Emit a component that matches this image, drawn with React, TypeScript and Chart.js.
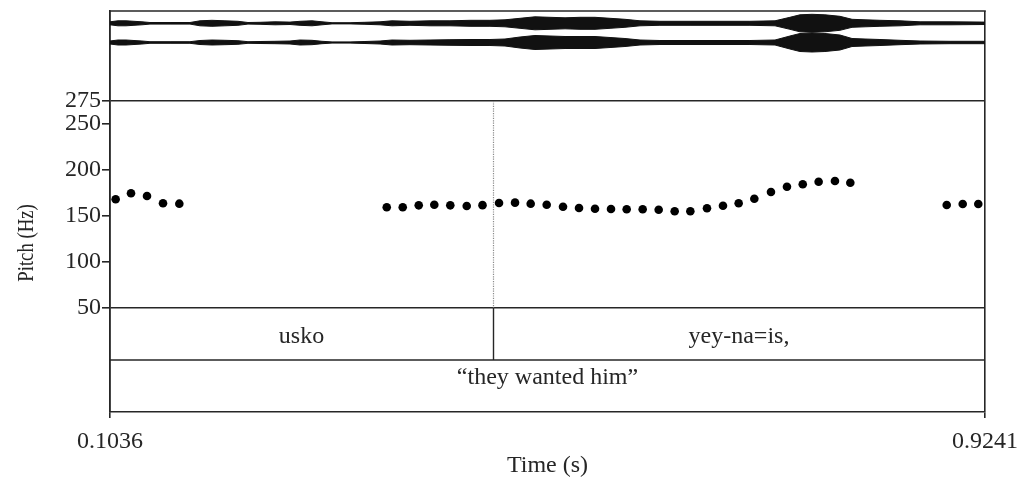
import React, { useEffect, useRef } from 'react';
import { Chart, registerables } from 'chart.js';

Chart.register(...registerables);

// ---------- data ----------
const timeStart = 0.1036;
const timeEnd = 0.9241;
const timeTicks = [0.1036, 0.9241];

const pitchTimes = [
  0.1089, 0.1233, 0.1383, 0.1533, 0.1686,
  0.3631, 0.3781, 0.3931, 0.4077, 0.4227, 0.4381, 0.4529, 0.4684, 0.4834, 0.4981,
  0.5131, 0.5284, 0.5434, 0.5584, 0.5734, 0.5881, 0.6031, 0.6181, 0.6331, 0.6478,
  0.6634, 0.6784, 0.6931, 0.7078, 0.7234, 0.7384, 0.7532, 0.7681, 0.7834, 0.7978,
  0.8882, 0.9032, 0.9178,
];
const pitchHz = [
  168.2, 174.7, 171.7, 163.8, 163.4,
  159.5, 159.5, 161.6, 162.3, 161.6, 160.9, 161.8, 164.2, 164.5, 163.4,
  162.3, 160.1, 158.7, 157.9, 157.6, 157.3, 157.3, 156.8, 155.1, 155.1,
  158.4, 161.2, 163.8, 168.8, 176.1, 181.8, 184.5, 187.3, 188.0, 186.2,
  162.0, 163.0, 163.0,
];
const pitchTicks = [50, 100, 150, 200, 250, 275];

// waveform amplitude envelope (relative), two channels
const waveTimes = [
  0.1036, 0.1111, 0.1186, 0.1261, 0.1336, 0.1411, 0.1599, 0.1786, 0.1880, 0.1992,
  0.2114, 0.2236, 0.2330, 0.2443, 0.2583, 0.2724, 0.2818, 0.2930, 0.3024, 0.3118,
  0.3287, 0.3427, 0.3568, 0.3680, 0.3849, 0.4037, 0.4224, 0.4412, 0.4599, 0.4740,
  0.4881, 0.5021, 0.5162, 0.5303, 0.5443, 0.5584, 0.5725, 0.5865, 0.6006, 0.6193,
  0.6475, 0.6756, 0.7037, 0.7272, 0.7412, 0.7506, 0.7619, 0.7740, 0.7881, 0.7994,
  0.8116, 0.8256, 0.8444, 0.8632, 0.8913, 0.9241,
];
const waveAmpCh1 = [
  0.15, 0.25, 0.25, 0.2, 0.15, 0.08, 0.08, 0.08, 0.25, 0.3,
  0.25, 0.2, 0.08, 0.1, 0.15, 0.12, 0.2, 0.25, 0.15, 0.06,
  0.06, 0.1, 0.15, 0.25, 0.2, 0.25, 0.25, 0.3, 0.3, 0.35,
  0.5, 0.65, 0.6, 0.55, 0.6, 0.6, 0.5, 0.4, 0.25, 0.2,
  0.2, 0.2, 0.2, 0.25, 0.6, 0.85, 0.9, 0.85, 0.7, 0.4,
  0.35, 0.3, 0.25, 0.15, 0.15, 0.12,
];
const waveAmpCh2 = [
  0.15, 0.25, 0.25, 0.2, 0.15, 0.08, 0.08, 0.08, 0.2, 0.25,
  0.22, 0.18, 0.08, 0.1, 0.12, 0.15, 0.25, 0.22, 0.12, 0.06,
  0.06, 0.1, 0.15, 0.25, 0.22, 0.25, 0.28, 0.3, 0.3, 0.35,
  0.55, 0.7, 0.65, 0.6, 0.6, 0.6, 0.5, 0.4, 0.25, 0.2,
  0.2, 0.2, 0.2, 0.25, 0.65, 0.9, 0.95, 0.9, 0.75, 0.4,
  0.35, 0.3, 0.22, 0.15, 0.12, 0.12,
];

const wordLabels = ['usko', 'yey-na=is,'];
const wordBounds = [0.1036, 0.4627, 0.9241];
const glossLabels = ['\u201Cthey wanted him\u201D'];
const glossBounds = [0.1036, 0.9241];

// ---------- layout / style constants ----------
const W = 1019;
const H = 479;
const AREA_LEFT = 110;
const AREA_RIGHT = 985;
const AREA_TOP = 11;
const AREA_BOTTOM = 412;
const PITCH_TOP_PX = 101;
const PITCH_BOT_PX = 308;
const PITCH_TOP_VAL = 275;
const PITCH_BOT_VAL = 50;
const PX_PER_HZ = (PITCH_BOT_PX - PITCH_TOP_PX) / (PITCH_TOP_VAL - PITCH_BOT_VAL);
const Y_MIN = PITCH_BOT_VAL - (AREA_BOTTOM - PITCH_BOT_PX) / PX_PER_HZ;
const Y_MAX = PITCH_TOP_VAL + (PITCH_TOP_PX - AREA_TOP) / PX_PER_HZ;
const CH1_CENTER = -(23.3 - AREA_TOP);
const CH2_CENTER = -(42.5 - AREA_TOP);
const WAVE_GAIN = 10;

const FONT = "'Liberation Serif', 'Times New Roman', serif";
const INK = '#262626';
const LW = 1.6;

const tierPlugin = {
  id: 'tiers',
  beforeDatasetsDraw(chart: any) {
    const { ctx, chartArea, scales } = chart;
    const xs = scales.x;
    const ys = scales.y;
    const pTop = ys.getPixelForValue(PITCH_TOP_VAL);
    const pBot = ys.getPixelForValue(PITCH_BOT_VAL);
    const tierMid = (pBot + chartArea.bottom) / 2;
    ctx.save();
    ctx.strokeStyle = INK;
    ctx.lineWidth = LW;
    const line = (x1: number, y1: number, x2: number, y2: number) => {
      ctx.beginPath();
      ctx.moveTo(x1, y1);
      ctx.lineTo(x2, y2);
      ctx.stroke();
    };
    line(chartArea.left - LW / 2, chartArea.top, chartArea.right + LW / 2, chartArea.top);
    line(chartArea.left, Math.round(tierMid), chartArea.right, Math.round(tierMid));
    for (let i = 1; i < wordBounds.length - 1; i++) {
      const px = Math.round(xs.getPixelForValue(wordBounds[i])) + 0.5;
      ctx.lineWidth = 1.4;
      ctx.strokeStyle = INK;
      line(px, pBot, px, Math.round(tierMid));
      ctx.save();
      ctx.strokeStyle = '#8a8a8a';
      ctx.lineWidth = 1.2;
      ctx.setLineDash([1.2, 1.2]);
      line(px, pTop, px, pBot);
      ctx.restore();
    }
    ctx.fillStyle = INK;
    ctx.font = `24px ${FONT}`;
    ctx.textAlign = 'center';
    ctx.textBaseline = 'alphabetic';
    for (let i = 0; i < wordLabels.length; i++) {
      const cx = (xs.getPixelForValue(wordBounds[i]) + xs.getPixelForValue(wordBounds[i + 1])) / 2;
      ctx.fillText(wordLabels[i], cx, pBot + 34.5);
    }
    for (let i = 0; i < glossLabels.length; i++) {
      const cx = (xs.getPixelForValue(glossBounds[i]) + xs.getPixelForValue(glossBounds[i + 1])) / 2;
      ctx.fillText(glossLabels[i], cx, tierMid + 23.5);
    }
    // axis titles
    ctx.fillText('Time (s)', (chartArea.left + chartArea.right) / 2, 472);
    ctx.save();
    ctx.translate(33, 243);
    ctx.rotate(-Math.PI / 2);
    ctx.scale(0.78, 1);
    ctx.fillText('Pitch (Hz)', 0, 0);
    ctx.restore();
    ctx.restore();
  },
};

export default function App() {
  const canvasRef = useRef<HTMLCanvasElement | null>(null);

  useEffect(() => {
    if (!canvasRef.current) return;
    const pitchData = pitchTimes.map((t, i) => ({ x: t, y: pitchHz[i] }));
    const band = (amp: number[], center: number, sign: number) =>
      waveTimes.map((t, i) => ({ x: t, y: center + sign * amp[i] * WAVE_GAIN }));
    const waveStyle = {
      type: 'line' as const,
      yAxisID: 'yw',
      pointRadius: 0,
      borderColor: '#111',
      borderWidth: 1,
      backgroundColor: '#111',
      tension: 0,
    };
    const chart = new Chart(canvasRef.current, {
      type: 'line',
      data: {
        datasets: [
          {
            type: 'line',
            data: pitchData,
            yAxisID: 'y',
            showLine: false,
            pointRadius: 4.3,
            pointBackgroundColor: '#000',
            pointBorderColor: '#000',
            pointBorderWidth: 0,
          } as any,
          { ...waveStyle, data: band(waveAmpCh1, CH1_CENTER, 1), fill: false } as any,
          { ...waveStyle, data: band(waveAmpCh1, CH1_CENTER, -1), fill: '-1' } as any,
          { ...waveStyle, data: band(waveAmpCh2, CH2_CENTER, 1), fill: false } as any,
          { ...waveStyle, data: band(waveAmpCh2, CH2_CENTER, -1), fill: '-1' } as any,
        ],
      },
      options: {
        animation: false,
        responsive: true,
        maintainAspectRatio: false,
        events: [],
        layout: {
          padding: { top: AREA_TOP, right: W - AREA_RIGHT, left: 0, bottom: 0 },
        },
        plugins: {
          legend: { display: false },
          tooltip: { enabled: false },
          title: { display: false },
        },
        scales: {
          x: {
            type: 'linear',
            min: timeStart,
            max: timeEnd,
            afterBuildTicks: (scale: any) => {
              scale.ticks = timeTicks.map((v) => ({ value: v }));
            },
            afterFit: (scale: any) => {
              scale.height = H - AREA_BOTTOM;
              scale.paddingLeft = 0;
              scale.paddingRight = 0;
            },
            ticks: {
              callback: (v: any) => Number(v).toFixed(4),
              font: { family: FONT, size: 24 },
              color: INK,
              padding: 9,
              maxRotation: 0,
              autoSkip: false,
            },
            grid: {
              color: INK,
              lineWidth: LW,
              tickLength: 6,
              drawOnChartArea: true,
              tickColor: INK,
            },
            border: { display: true, color: INK, width: LW },
          },
          y: {
            type: 'linear',
            position: 'left',
            min: Y_MIN,
            max: Y_MAX,
            afterBuildTicks: (scale: any) => {
              scale.ticks = pitchTicks.map((v) => ({ value: v }));
            },
            afterFit: (scale: any) => {
              scale.width = AREA_LEFT;
              scale.paddingTop = 0;
              scale.paddingBottom = 0;
            },
            ticks: {
              callback: (v: any) => String(v),
              font: { family: FONT, size: 24 },
              color: INK,
              padding: 1,
              autoSkip: false,
            },
            grid: {
              color: (ctx: any) =>
                ctx.tick && (ctx.tick.value === PITCH_TOP_VAL || ctx.tick.value === PITCH_BOT_VAL)
                  ? INK
                  : 'rgba(0,0,0,0)',
              tickColor: INK,
              lineWidth: LW,
              tickLength: 8,
              drawOnChartArea: true,
            },
            border: { display: true, color: INK, width: LW },
          },
          yw: {
            type: 'linear',
            display: false,
            min: -(AREA_BOTTOM - AREA_TOP),
            max: 0,
          },
        },
      } as any,
      plugins: [tierPlugin],
    });
    return () => chart.destroy();
  }, []);

  return (
    <div style={{ position: 'fixed', left: 0, top: 0, width: W, height: H, background: '#fff' }}>
      <canvas ref={canvasRef} />
    </div>
  );
}
